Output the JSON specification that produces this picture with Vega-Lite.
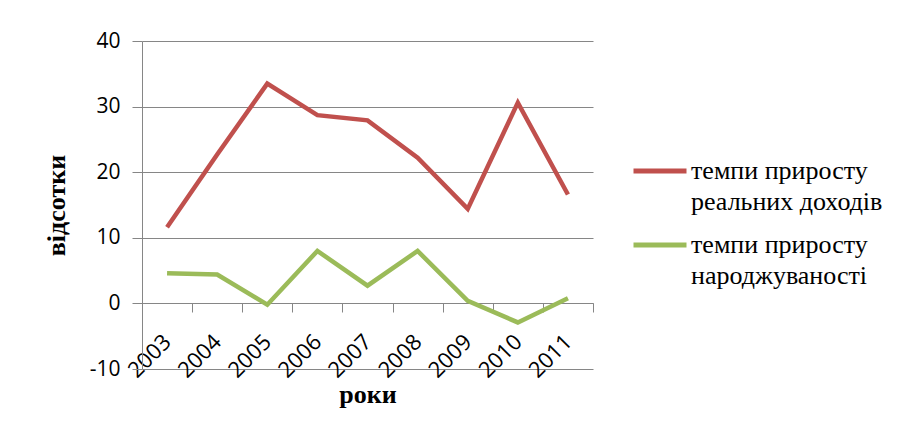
{
  "$schema": "https://vega.github.io/schema/vega-lite/v6.json",
  "width": 451,
  "height": 328,
  "autosize": "none",
  "padding": {"left": 142, "top": 41, "right": 310, "bottom": 59},
  "background": "white",
  "data": {
    "values": [
      {"year": "2003", "series": "темпи приросту|реальних доходів", "value": 11.6},
      {"year": "2004", "series": "темпи приросту|реальних доходів", "value": 22.7},
      {"year": "2005", "series": "темпи приросту|реальних доходів", "value": 33.5},
      {"year": "2006", "series": "темпи приросту|реальних доходів", "value": 28.7},
      {"year": "2007", "series": "темпи приросту|реальних доходів", "value": 27.9},
      {"year": "2008", "series": "темпи приросту|реальних доходів", "value": 22.2},
      {"year": "2009", "series": "темпи приросту|реальних доходів", "value": 14.4},
      {"year": "2010", "series": "темпи приросту|реальних доходів", "value": 30.6},
      {"year": "2011", "series": "темпи приросту|реальних доходів", "value": 16.6},
      {"year": "2003", "series": "темпи приросту|народжуваності", "value": 4.6},
      {"year": "2004", "series": "темпи приросту|народжуваності", "value": 4.4},
      {"year": "2005", "series": "темпи приросту|народжуваності", "value": -0.2},
      {"year": "2006", "series": "темпи приросту|народжуваності", "value": 8.0},
      {"year": "2007", "series": "темпи приросту|народжуваності", "value": 2.7},
      {"year": "2008", "series": "темпи приросту|народжуваності", "value": 8.0},
      {"year": "2009", "series": "темпи приросту|народжуваності", "value": 0.4},
      {"year": "2010", "series": "темпи приросту|народжуваності", "value": -2.9},
      {"year": "2011", "series": "темпи приросту|народжуваності", "value": 0.8}
    ]
  },
  "mark": {"type": "line", "strokeWidth": 4.5},
  "encoding": {
    "x": {
      "field": "year",
      "type": "ordinal",
      "scale": {"type": "band", "paddingInner": 0, "paddingOuter": 0},
      "axis": {
        "title": "роки",
        "orient": "bottom",
        "offset": -66,
        "domainColor": "#868686",
        "tickColor": "#868686",
        "tickSize": 9,
        "tickBand": "extent",
        "labelAngle": -45,
        "labelAlign": "right",
        "labelBaseline": "middle",
        "labelPadding": 26,
        "labelOffset": 0,
        "labelOverlap": false,
        "labelFontSize": 22,
        "titlePadding": 0,
        "grid": false
      }
    },
    "y": {
      "field": "value",
      "type": "quantitative",
      "scale": {"domain": [-10, 40], "nice": false, "zero": false},
      "axis": {
        "values": [-10, 0, 10, 20, 30, 40],
        "labelExpr": "'' + datum.value",
        "title": "відсотки",
        "grid": true,
        "gridColor": "#868686",
        "domainColor": "#868686",
        "tickColor": "#868686",
        "tickSize": 10,
        "labelPadding": 12,
        "titlePadding": 20
      }
    },
    "color": {
      "field": "series",
      "type": "nominal",
      "scale": {
        "domain": ["темпи приросту|реальних доходів", "темпи приросту|народжуваності"],
        "range": ["#C0504D", "#9BBB59"]
      },
      "legend": {
        "orient": "none",
        "legendX": 489,
        "legendY": 101,
        "title": null,
        "symbolType": "stroke",
        "symbolStrokeWidth": 5,
        "symbolSize": 2809,
        "labelFont": "serif",
        "labelOffset": 2,
        "labelLimit": 400,
        "rowPadding": 1
      }
    }
  },
  "config": {
    "view": {"stroke": null},
    "style": {"guide-label": {"lineHeight": 31, "lineBreak": "|"}},
    "axis": {
      "labelFont": "Open Sans",
      "labelFontSize": 21,
      "labelColor": "#000000",
      "titleFont": "Liberation Serif",
      "titleFontSize": 26,
      "titleFontWeight": "bold",
      "titleColor": "#000000"
    },
    "legend": {
      "labelFont": "serif",
      "labelFontSize": 26,
      "labelColor": "#000000"
    }
  }
}
